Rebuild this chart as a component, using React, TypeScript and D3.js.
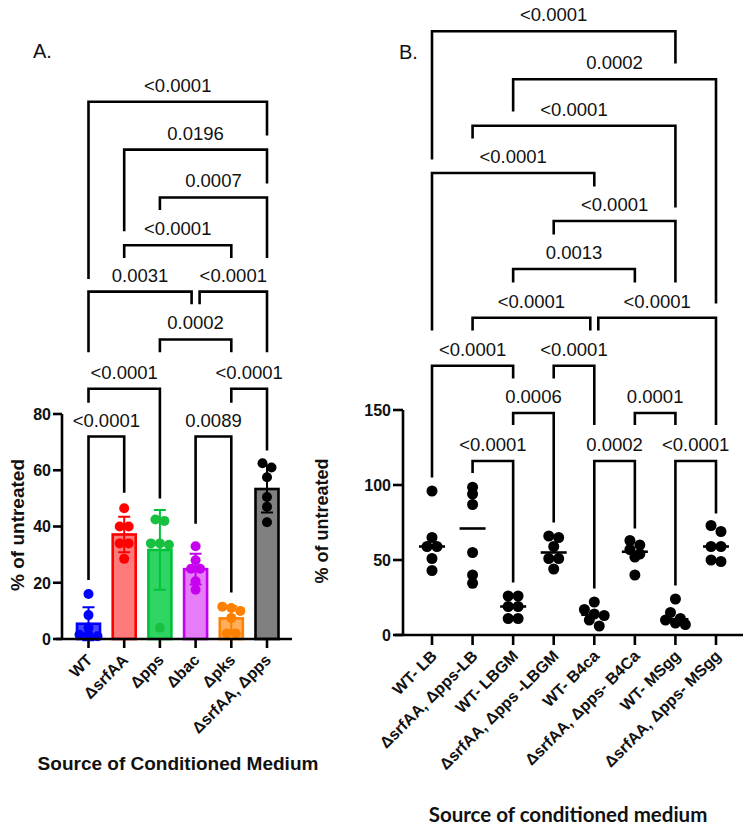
import * as d3 from 'd3';

// ---- panel A data ----
const groupsA = ['WT', 'ΔsrfAA', 'Δpps', 'Δbac', 'Δpks', 'ΔsrfAA, Δpps'];
const pointsA = [
  [16, 8.5, 4, 1.5, 1.5, 1],
  [46.5, 40, 40, 34, 34, 28.5],
  [42.5, 42, 34, 34, 33.5, 4],
  [33, 28, 25, 25, 20.5, 17.5],
  [11.5, 11, 10, 7.5, 2, 2],
  [62.5, 61, 57.5, 50.5, 47, 41.5]
];
const ticksA = [0, 20, 40, 60, 80];
// [from, to, p-value, line level, left leg end, right leg end]
const bracketsA: [number, number, string, number, number, number][] = [
  [0, 5, '<0.0001', 191, 128, 179],
  [1, 5, '0.0196', 174, 145, 162],
  [2, 5, '0.0007', 157, 152.5, 135.5],
  [1, 4, '<0.0001', 140, 135.5, 135.5],
  [0, 3, '0.0031', 123.5, 102, 119],
  [3, 5, '<0.0001', 123.5, 119, 102],
  [2, 4, '0.0002', 106.5, 102, 102],
  [0, 2, '<0.0001', 89, 84, 50],
  [4, 5, '<0.0001', 89, 84, 67],
  [0, 1, '<0.0001', 72, 21, 52],
  [3, 4, '0.0089', 72, 41, 16.5]
];

// ---- panel B data ----
const groupsB = [
  'WT- LB',
  'ΔsrfAA, Δpps-LB',
  'WT- LBGM',
  'ΔsrfAA, Δpps -LBGM',
  'WT- B4ca',
  'ΔsrfAA, Δpps- B4Ca',
  'WT- MSgg',
  'ΔsrfAA, Δpps- MSgg'
];
const pointsB = [
  [96, 65, 59, 59, 51, 43],
  [98.5, 94, 87, 55, 40, 34.5],
  [26, 26, 19, 19, 11, 11],
  [66, 65, 59, 51, 51, 44],
  [22, 17, 14, 13, 10, 6],
  [63, 60, 57, 54, 52, 40],
  [24, 15, 11, 10, 8, 7],
  [73, 69, 59, 59, 50, 49]
];
const ticksB = [0, 50, 100, 150];
const bracketsB: [number, number, string, number, number, number][] = [
  [0, 6, '<0.0001', 402.5, 317, 381],
  [2, 7, '0.0002', 370.5, 349, 221],
  [1, 6, '<0.0001', 339.5, 331, 285],
  [0, 4, '<0.0001', 308, 203, 299],
  [3, 6, '<0.0001', 276, 267, 235],
  [2, 5, '0.0013', 244, 235, 235],
  [1, 4, '<0.0001', 211.5, 203, 203],
  [4, 7, '<0.0001', 211.5, 203, 140],
  [0, 2, '<0.0001', 179.5, 105, 171],
  [3, 4, '<0.0001', 179.5, 171, 140],
  [2, 3, '0.0006', 148, 140, 75],
  [5, 6, '0.0001', 148, 140, 140],
  [1, 2, '<0.0001', 116, 108, 35],
  [4, 5, '0.0002', 116, 31, 71],
  [6, 7, '<0.0001', 116, 33, 81]
];

// ---- styles ----
const fillA = ['#4747ff', '#ff7b7b', '#2fd562', '#e77cf9', '#ffae5c', '#808080'];
const strokeA = ['#0000ff', '#ff0000', '#00c23a', '#c400f0', '#ff8000', '#000000'];
const dotA = ['#0000ff', '#ff0000', '#18c040', '#c800f0', '#ff8000', '#000000'];
const ARIAL = '"Liberation Sans", Arial, sans-serif';
const LW = 2.6;

// spread points with similar values sideways (column scatter)
function swarm(values: number[], y: (v: number) => number, r: number): number[] {
  const order = values.map((v, i) => i).sort((a, b) => values[b] - values[a]);
  const off = new Array(values.length).fill(0);
  let bin: number[] = [];
  const flush = () => {
    bin.forEach((idx, k) => {
      off[idx] = (k - (bin.length - 1) / 2) * r * 1.8;
    });
    bin = [];
  };
  order.forEach((idx) => {
    if (bin.length && Math.abs(y(values[idx]) - y(values[bin[0]])) > r * 1.2) flush();
    bin.push(idx);
  });
  flush();
  return off;
}

function Brackets({
  list,
  x,
  y
}: {
  list: [number, number, string, number, number, number][];
  x: (i: number) => number;
  y: d3.ScaleLinear<number, number>;
}) {
  return (
    <g>
      {list.map(([a, b, label, lvl, le, re], i) => {
        // nudge ends that meet another bracket on the same level
        const shareLeft = list.some((o, j) => j !== i && o[3] === lvl && o[1] === a);
        const shareRight = list.some((o, j) => j !== i && o[3] === lvl && o[0] === b);
        const x1 = x(a) + (shareLeft ? 4 : 0);
        const x2 = x(b) - (shareRight ? 4 : 0);
        const yl = y(lvl);
        return (
          <g key={i}>
            <path
              d={`M${x1},${y(le)}V${yl}H${x2}V${y(re)}`}
              fill="none"
              stroke="#000"
              strokeWidth={LW}
            />
            <text
              x={(x1 + x2) / 2}
              y={yl - 10}
              textAnchor="middle"
              fontFamily={ARIAL}
              fontSize={18.5}
              fill="#111"
            >
              {label}
            </text>
          </g>
        );
      })}
    </g>
  );
}

function PanelA() {
  const y = d3.scaleLinear().domain([0, 80]).range([639, 414]);
  const x = d3.scalePoint<string>().domain(groupsA).range([88.5, 267]);
  const x0 = 62;
  const bw = 23;
  const r = 5;
  const xi = (i: number) => x(groupsA[i]) as number;

  return (
    <g>
      <text x={33} y={58} fontFamily={ARIAL} fontSize={20} fill="#111">A.</text>
      {groupsA.map((g, i) => {
        const vals = pointsA[i];
        const m = d3.mean(vals) as number;
        const sd = d3.deviation(vals) as number;
        const cx = xi(i);
        const offs = swarm(vals, y, r);
        return (
          <g key={g}>
            <rect
              x={cx - bw / 2}
              y={y(m)}
              width={bw}
              height={y(0) - y(m)}
              fill={fillA[i]}
              stroke={strokeA[i]}
              strokeWidth={LW}
            />
            <path
              d={`M${cx},${y(m - sd)}V${y(m + sd)}M${cx - 6},${y(m + sd)}H${cx + 6}M${cx - 6},${y(m - sd)}H${cx + 6}`}
              stroke={strokeA[i]}
              strokeWidth={2}
              fill="none"
            />
            {vals.map((v, k) => (
              <circle key={k} cx={cx + offs[k]} cy={y(v)} r={r} fill={dotA[i]} />
            ))}
          </g>
        );
      })}
      {/* axes */}
      <path d={`M${x0},${y(80)}V${y(0)}M${x0 - 6},${y(0)}H292`} stroke="#000" strokeWidth={LW} fill="none" />
      {ticksA.map((t) => (
        <g key={t}>
          <line x1={x0 - 9} x2={x0} y1={y(t)} y2={y(t)} stroke="#000" strokeWidth={LW} />
          <text x={x0 - 11} y={y(t)} dy="0.36em" textAnchor="end" fontFamily={ARIAL} fontWeight="bold" fontSize={16} fill="#111">
            {t}
          </text>
        </g>
      ))}
      {groupsA.map((g, i) => (
        <g key={g}>
          <line x1={xi(i)} x2={xi(i)} y1={y(0)} y2={y(0) + 9} stroke="#000" strokeWidth={LW} />
          <text
            transform={`translate(${xi(i) + 5},${y(0) + 22}) rotate(-45)`}
            textAnchor="end"
            fontFamily={ARIAL}
            fontWeight="bold"
            fontSize={16}
            fill="#111"
          >
            {g}
          </text>
        </g>
      ))}
      <text transform="translate(24,525) rotate(-90)" textAnchor="middle" fontFamily={ARIAL} fontWeight="bold" fontSize={19} fill="#111">
        % of untreated
      </text>
      <text x={178} y={770} textAnchor="middle" fontFamily={ARIAL} fontWeight="bold" fontSize={19} fill="#111">
        Source of Conditioned Medium
      </text>
      <Brackets list={bracketsA} x={xi} y={y} />
    </g>
  );
}

function PanelB() {
  const y = d3.scaleLinear().domain([0, 150]).range([635, 410]);
  const x = d3.scalePoint<string>().domain(groupsB).range([432, 716]);
  const x0 = 403;
  const r = 5.5;
  const xi = (i: number) => x(groupsB[i]) as number;

  return (
    <g>
      <text x={399} y={59} fontFamily={ARIAL} fontSize={20} fill="#111">B.</text>
      {groupsB.map((g, i) => {
        const vals = pointsB[i];
        const med = d3.median(vals) as number;
        const cx = xi(i);
        const offs = swarm(vals, y, r);
        return (
          <g key={g}>
            <line x1={cx - 13} x2={cx + 13} y1={y(med)} y2={y(med)} stroke="#000" strokeWidth={LW} />
            {vals.map((v, k) => (
              <circle key={k} cx={cx + offs[k]} cy={y(v)} r={r} fill="#000" />
            ))}
          </g>
        );
      })}
      <path d={`M${x0},${y(150)}V${y(0)}M${x0 - 8},${y(0)}H743`} stroke="#000" strokeWidth={LW} fill="none" />
      {ticksB.map((t) => (
        <g key={t}>
          <line x1={x0 - 10} x2={x0} y1={y(t)} y2={y(t)} stroke="#000" strokeWidth={LW} />
          <text x={x0 - 12} y={y(t)} dy="0.36em" textAnchor="end" fontFamily={ARIAL} fontWeight="bold" fontSize={16} fill="#111">
            {t}
          </text>
        </g>
      ))}
      {groupsB.map((g, i) => (
        <g key={g}>
          <line x1={xi(i)} x2={xi(i)} y1={y(0)} y2={y(0) + 10} stroke="#000" strokeWidth={LW} />
          <text
            transform={`translate(${xi(i) + 6},${y(0) + 22}) rotate(-45)`}
            textAnchor="end"
            fontFamily={ARIAL}
            fontWeight="bold"
            fontSize={16}
            fill="#111"
          >
            {g}
          </text>
        </g>
      ))}
      <text transform="translate(328,521) rotate(-90)" textAnchor="middle" fontFamily={ARIAL} fontWeight="bold" fontSize={18} fill="#111">
        % of untreated
      </text>
      <text x={568} y={822} textAnchor="middle" fontFamily="Lato, 'Open Sans', sans-serif" fontWeight="bold" fontSize={20.5} fill="#111">
        Source of conditioned medium
      </text>
      <Brackets list={bracketsB} x={xi} y={y} />
    </g>
  );
}

export default function App() {
  return (
    <svg
      width={750}
      height={832}
      viewBox="0 0 750 832"
      style={{ position: 'absolute', left: 0, top: 0, background: '#fff' }}
    >
      <rect width={750} height={832} fill="#fff" />
      <PanelA />
      <PanelB />
    </svg>
  );
}
